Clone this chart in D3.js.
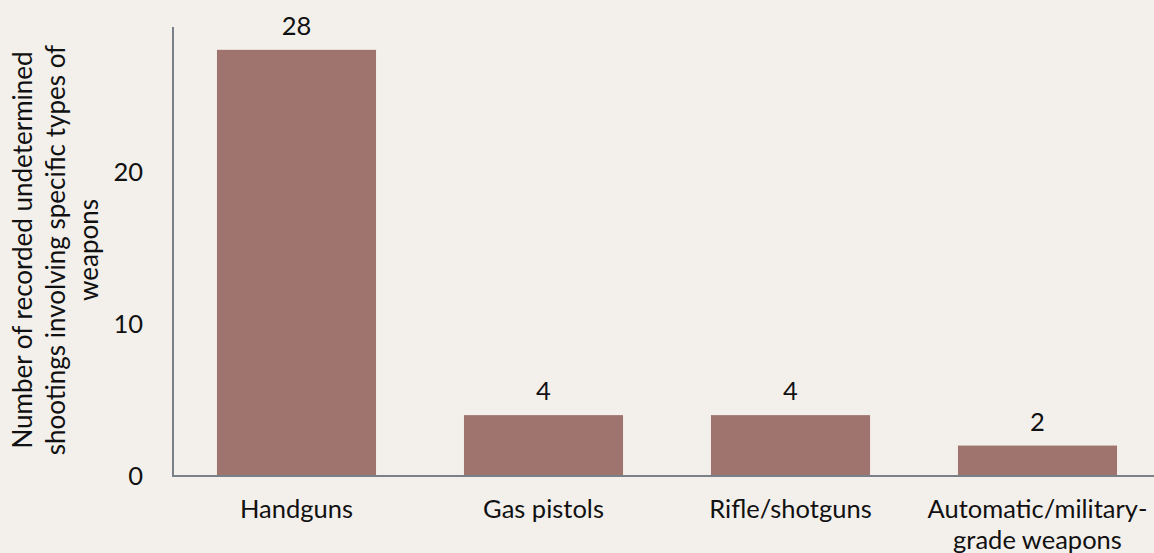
<!DOCTYPE html>
<html>
<head>
<meta charset="utf-8">
<script src="https://cdn.jsdelivr.net/npm/d3@7"></script>
<style>
  body { margin: 0; background: #f3f0ec; }
  svg { display: block; font-family: Lato, "Open Sans", sans-serif; }
</style>
</head>
<body>
<svg id="chart" width="1154" height="553"></svg>
<script>
var categories = [["Handguns"], ["Gas pistols"], ["Rifle/shotguns"], ["Automatic/military-", "grade weapons"]];
var counts = [28, 4, 4, 2];
var yTicks = [0, 10, 20];
var yTitle = ["Number of recorded undetermined", "shootings involving specific types of", "weapons"];

var svg = d3.select('#chart');
svg.append('rect').attr('width', 1154).attr('height', 553).attr('fill', '#f3f0ec');

var x = d3.scaleBand()
  .domain(d3.range(counts.length))
  .range([173, 1161])
  .paddingInner(0.356)
  .paddingOuter(0.178);

var y = d3.scaleLinear()
  .domain([0, 29.5])
  .range([476, 27]);

// bars
svg.selectAll('rect.bar')
  .data(counts)
  .enter()
  .append('rect')
    .attr('class', 'bar')
    .attr('x', function (d, i) { return x(i); })
    .attr('y', function (d) { return y(d); })
    .attr('width', x.bandwidth())
    .attr('height', function (d) { return y(0) - y(d); })
    .attr('fill', '#a0746e');

// value labels
svg.selectAll('text.val')
  .data(counts)
  .enter()
  .append('text')
    .attr('class', 'val')
    .attr('x', function (d, i) { return x(i) + x.bandwidth() / 2; })
    .attr('y', function (d) { return y(d) - 15; })
    .attr('text-anchor', 'middle')
    .style('font-size', '25.5px')
    .attr('fill', '#111')
    .text(function (d) { return d; });

// axes lines
svg.append('line')
  .attr('x1', 173).attr('x2', 173)
  .attr('y1', y.range()[1]).attr('y2', y(0))
  .attr('stroke', '#7a8088').attr('stroke-width', 2);
svg.append('line')
  .attr('x1', 172).attr('x2', 1154)
  .attr('y1', y(0)).attr('y2', y(0))
  .attr('stroke', '#7a8088').attr('stroke-width', 2);

// y tick labels
svg.selectAll('text.ytick')
  .data(yTicks)
  .enter()
  .append('text')
    .attr('class', 'ytick')
    .attr('x', 143)
    .attr('y', function (d) { return y(d); })
    .attr('dy', '0.35em')
    .attr('text-anchor', 'end')
    .style('font-size', '25.5px')
    .attr('fill', '#111')
    .text(function (d) { return d; });

// category labels
var cat = svg.selectAll('text.cat')
  .data(categories)
  .enter()
  .append('text')
    .attr('class', 'cat')
    .attr('x', function (d, i) { return x(i) + x.bandwidth() / 2; })
    .attr('y', 518)
    .attr('text-anchor', 'middle')
    .style('font-size', '25.5px')
    .attr('fill', '#111');
cat.selectAll('tspan')
  .data(function (d) { return d; })
  .enter()
  .append('tspan')
    .attr('x', function () { return d3.select(this.parentNode).attr('x'); })
    .attr('dy', function (d, i) { return i === 0 ? 0 : 31; })
    .text(function (d) { return d; });

// y axis title
var title = svg.append('text')
  .attr('transform', 'translate(65,250) rotate(-90)')
  .attr('text-anchor', 'middle')
  .style('font-size', '26px')
  .attr('fill', '#111');
title.selectAll('tspan')
  .data(yTitle)
  .enter()
  .append('tspan')
    .attr('x', 0)
    .attr('y', function (d, i) { return (i - 1) * 33; })
    .text(function (d) { return d; });
</script>
</body>
</html>
